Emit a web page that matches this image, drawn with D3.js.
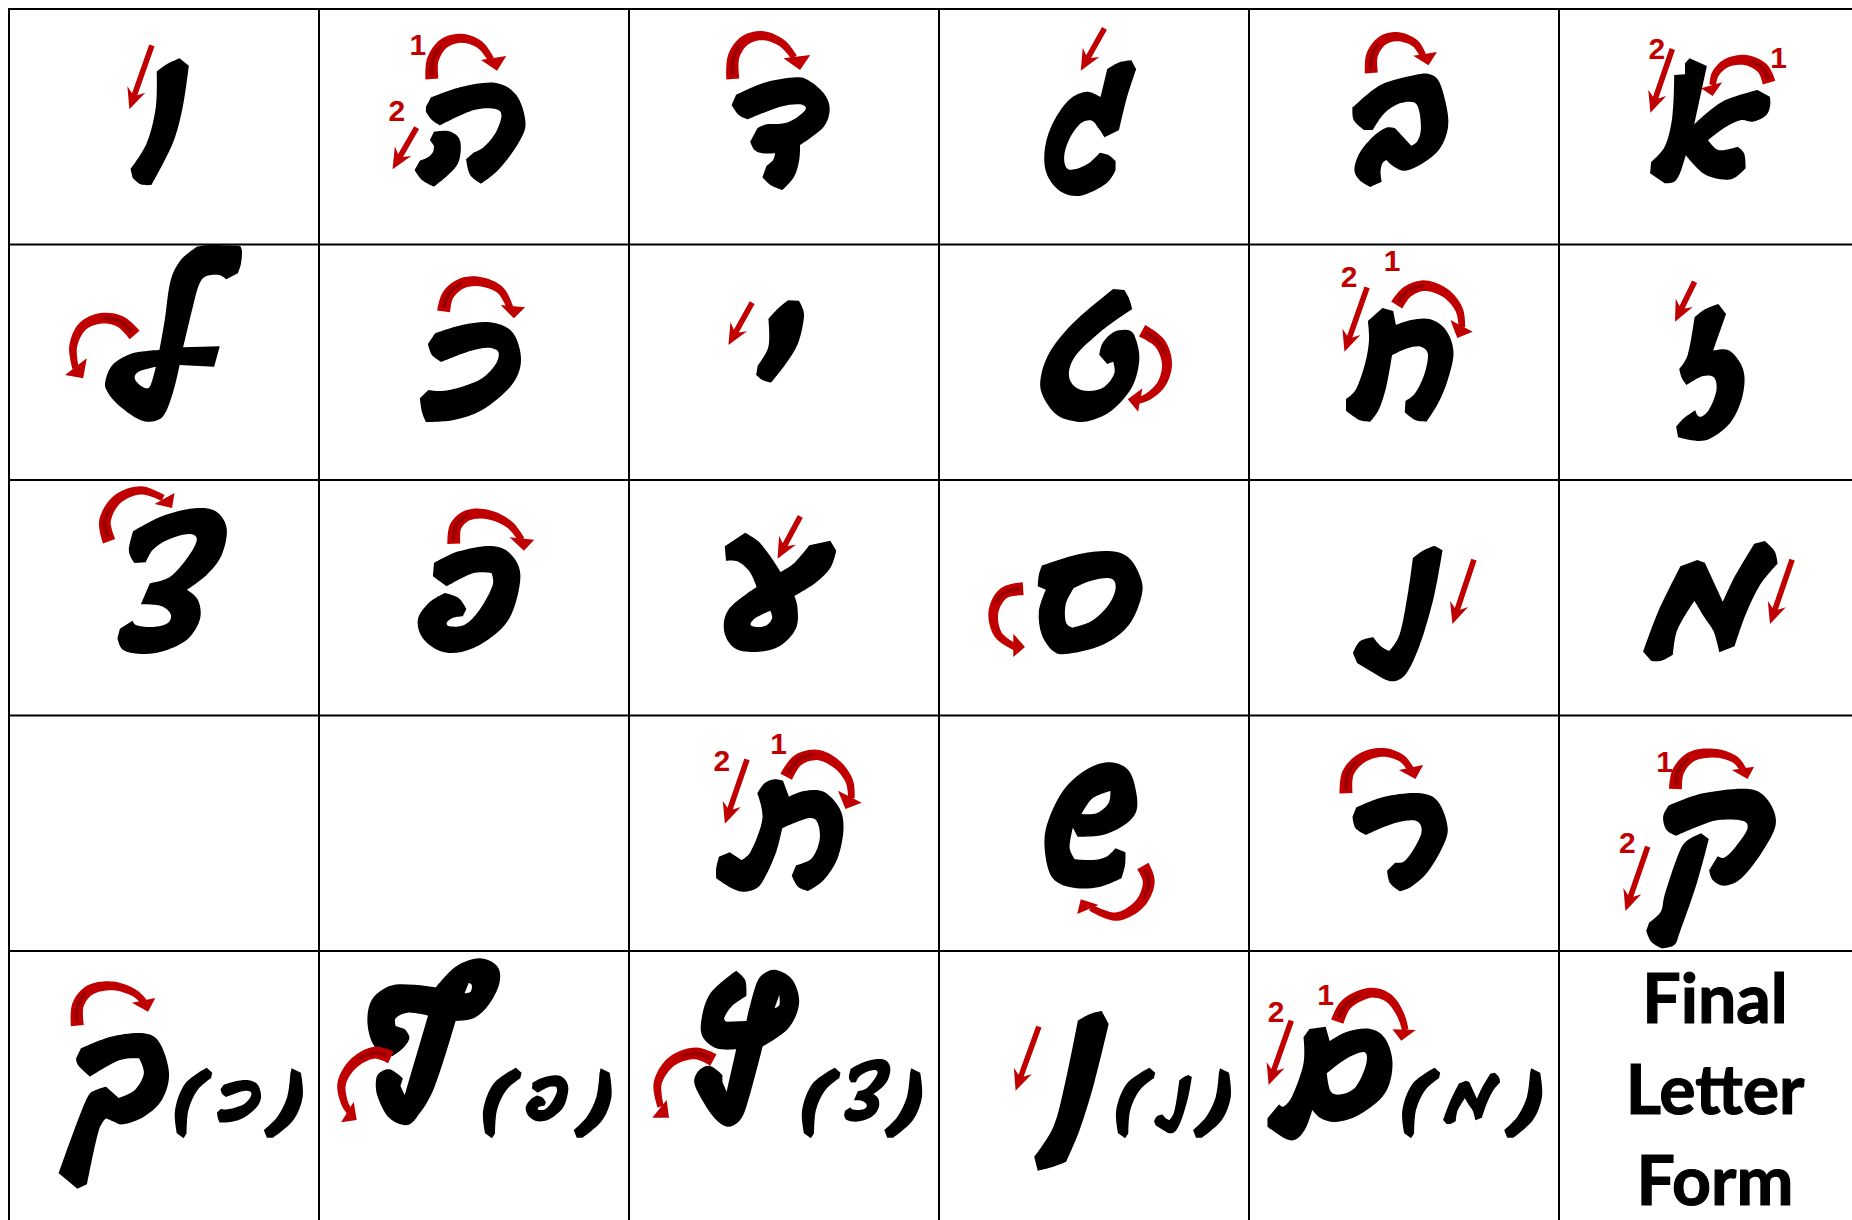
<!DOCTYPE html>
<html>
<head>
<meta charset="utf-8">
<style>
  html, body { margin: 0; padding: 0; background: #fff; overflow: hidden; }
  svg { display: block; }
</style>
<script src="https://cdn.jsdelivr.net/npm/d3@7"></script>
</head>
<body>
<script>
var width = 1852, height = 1220

// grid
var colLines = [0, 1, 2, 3, 4, 5]
var rowLines = [0, 1, 2, 3, 4]

// regions the outlines were read in: left, top, width, height
var regions = {
  A: [0, 0, 630, 245], B: [630, 0, 620, 245], C: [1250, 0, 602, 245],
  D: [0, 240, 630, 245], E: [630, 240, 620, 245], F: [1250, 240, 602, 245],
  G: [0, 478, 940, 240], H: [940, 478, 912, 240],
  I: [630, 715, 620, 240], J: [1250, 715, 602, 240],
  K: [0, 950, 940, 270], L: [940, 950, 912, 270]
}

// letter outlines: contour > runs, a corner between two runs
var letters = {
  vavTop: ["A", [[[390,215,415,193,447,175],[470,197],[455,320,430,430,377,555],[350,553,330,533],[325,507],[365,430,388,320,390,215]]]],
  hetA: ["A", [
    [[1073,292,1150,260,1235,249,1285,285,1308,370,1290,430,1240,510,1197,551],[1170,525,1160,478],[1180,457],[1205,440,1235,395,1248,345,1235,328,1180,330,1095,376],[1075,360,1060,335],[1060,320],[1073,292]],
    [[1080,395,1115,393,1140,410,1147,440,1140,490,1115,525,1080,560],[1050,540,1032,510],[1045,482],[1065,472,1078,455,1080,437],[1070,420],[1080,395]]
  ]],
  B1: ["B", [[[268,285,340,248,420,232,450,240,490,280,505,325,490,380,430,435],[428,480,415,530,385,570],[355,555,335,532],[345,498],[362,480,367,460],[335,460,315,450,304,425],[322,385],[345,373,390,370,425,350,445,325,430,313,380,320,298,358],[275,345,257,315],[268,285]]]],
  B2: ["B", [[[1207,207,1235,188,1268,181],[1280,208],[1255,300,1237,390],[1200,412],[1185,385,1168,362,1140,370,1110,420,1098,470,1105,505,1125,508,1160,490,1188,458],[1210,465,1228,483],[1228,510],[1205,550,1140,587,1090,575,1055,525,1048,460,1065,380,1110,300,1155,275,1190,291],[1207,207]]]],
  C1: ["C", [[[270,320,340,255,430,225,465,222,490,240,510,310,516,380,495,445,450,490,405,512,375,500,355,480],[345,490,340,515,343,545],[313,561],[285,540,272,510,285,460,320,410,355,383,378,385],[420,437],[435,425,445,390,440,330,427,307,390,310,350,340,320,390],[297,390],[270,360,267,320]]]],
  C2: ["C", [[[1105,225],[1133,223],[1133,190],[1145,175],[1190,198],[1157,373],[1230,305,1322,270],[1354,290],[1355,315,1345,345,1310,365,1280,360,1240,380,1193,420],[1220,450,1270,440],[1287,460,1291,505],[1260,535,1225,538,1180,520,1135,466],[1120,520,1105,545,1080,550],[1042,520],[1045,485],[1080,440,1100,350,1105,225]]]],
  D1: ["D", [
    [[490,20,520,15,597,17],[602,30,600,70,592,100],[563,118],[545,105,510,110,495,135,480,200,456,322],[547,319],[533,380],[447,375],[430,460,405,530,370,545,340,535,290,490,265,450,262,425,280,375,330,340,397,330],[410,240,425,120,450,60,490,20]],
    [[388,380,345,395,335,412,345,432,365,445,375,435,388,380]]
  ]],
  D2: ["D", [[[1083,280,1150,255,1220,247,1270,270,1292,320,1295,380,1270,440,1200,510,1130,540,1060,546],[1050,515,1045,475],[1066,450],[1100,453,1150,440,1200,415,1235,370,1240,335,1215,323,1170,333,1098,366],[1075,345,1065,312],[1083,280]]]],
  E1: ["E", [[[350,237,375,205,400,181],[427,182],[435,200,440,230,425,310,395,370,357,428],[335,420,319,404],[323,377],[350,320,350,237]]]],
  E2: ["E", [[[1222,147],[1250,150],[1262,175,1270,207],[1190,275,1125,350,1110,405,1125,440,1160,453,1200,440,1225,400,1222,365],[1207,372],[1187,345],[1195,310,1225,275,1265,272,1280,300,1288,360,1270,440,1220,510,1170,540,1130,545,1080,525,1045,470,1038,420,1060,340,1120,250,1222,147]]]],
  F1: ["F", [[[345,204],[373,213],[380,255],[420,240,470,238,510,270,530,335,515,420,490,490,460,545],[430,540,403,517],[405,483],[430,460,455,400,463,340,445,320,410,325,370,346],[355,440,335,510,313,545],[285,540,250,512],[250,477],[275,450,300,370,310,300,307,243],[345,204]]]],
  F2: ["F", [[[1158,232,1185,208,1220,192],[1240,222],[1206,332],[1245,330,1275,365,1288,410,1280,480,1250,550,1200,595,1165,603,1115,592],[1110,560],[1130,535,1160,511],[1165,525,1175,530,1195,510,1215,450,1208,412,1180,408,1137,435],[1125,415,1118,387],[1140,345,1158,232]]]],
  G1: ["G", [[[222,160,270,115,325,91,360,100,378,150,370,230,345,290,312,335],[330,365,334,420,315,480,280,515,240,528,205,515,196,480],[200,452],[221,428],[228,442,255,447,280,435,285,410,270,385,235,379],[250,316],[285,295,320,220,328,180,315,168,280,185,255,215,243,253],[224,255],[215,220,222,160]]]],
  G2: ["G", [[[724,255,765,220,820,204,850,225,868,290,850,420,810,490,770,522,735,520,705,480,697,425,715,375,742,345],[765,360,778,393],[772,415],[755,420,745,435,750,445,775,440,800,395,822,320,820,285],[790,285,745,325],[722,295],[724,255]]]],
  G3: ["G", [
    [[1209,205],[1243,164],[1265,190,1285,235,1302,282],[1325,255,1350,202],[1385,188],[1395,218],[1385,270,1360,315,1325,354],[1330,385,1328,450,1300,505,1260,522,1225,510,1208,460,1215,395,1262,327],[1250,280,1230,250,1211,248],[1209,205]],
    [[1285,398,1260,420,1252,440,1265,447,1280,440,1288,420,1285,398]]
  ]],
  H1: ["H", [
    [[175,263,240,228,295,220,325,240,345,300,347,350,325,440,280,500,215,528,195,520,175,470,170,400,182,335],[168,325],[170,290,175,263]],
    [[230,330,260,308,295,302,302,330,290,380,260,430,228,449],[217,435,216,380,230,330]]
  ]],
  H2: ["H", [[[813,240,830,218,850,203],[864,217],[850,350,825,500,800,590,778,610,760,600],[717,555],[710,525],[722,490,745,478],[758,505,772,519],[790,470,805,340,813,240]]]],
  H3: ["H", [[[1273,265],[1302,246],[1315,254],[1346,372],[1365,300,1400,197],[1418,189],[1435,220,1440,257],[1410,320,1385,410,1366,505],[1340,523],[1330,460,1315,420,1297,368],[1275,430,1265,470,1260,530],[1240,548,1223,549],[1209,521],[1235,400,1273,265]]]],
  I1: ["I", [[[322,235,340,205,365,193,387,197],[402,245],[440,228,490,230,530,280,540,340,525,430,490,495,450,528],[425,515,409,482],[420,451],[460,430,480,370,472,318,450,310,385,340],[370,410,340,490,320,520,285,530,250,515,218,490],[218,460,225,425],[252,412],[282,435],[305,410,335,310,322,235]]]],
  I2: ["I", [
    [[1228,400],[1253,412],[1252,450,1243,490],[1190,515,1130,520,1085,505,1060,470,1048,380,1060,310,1100,220,1160,160,1215,142,1260,165,1280,230,1280,290,1250,330,1195,360,1132,365],[1120,338],[1112,400,1125,433],[1170,435,1205,425,1228,400]],
    [[1215,228,1170,250,1142,297],[1180,295,1210,265,1215,228]]
  ]],
  J1: ["J", [[[277,277,350,245,445,235,490,260,515,340,500,400,460,475,420,515,390,529],[365,505,357,467],[378,443],[400,440,425,405,447,350,437,320,400,318,350,335,302,360],[275,340,267,305],[277,277]]]],
  J2: ["J", [
    [[1090,272,1180,235,1300,222,1345,250,1370,320,1340,400,1280,490,1235,512,1205,495,1196,466],[1218,424],[1235,428,1265,395,1296,340,1285,318,1220,315,1165,335,1110,362],[1085,345,1076,305,1090,272]],
    [[1175,355],[1195,372],[1165,500,1120,650,1105,690,1072,700],[1045,680,1032,647],[1040,622],[1070,590,1080,540,1115,420,1135,380,1175,355]]
  ]],
  K1: ["K", [[[135,295,185,260,240,250,265,275,282,370,270,450,240,500,205,523,190,515,177,505],[165,540,145,703],[129,716],[98,670],[145,445,160,420,177,410],[198,444],[225,420,240,370,232,325],[200,330,150,380],[130,345,127,325],[135,295]]]],
  K2: ["K", [
    [[727,112,760,50,800,25,830,50,833,100,815,165,790,205,760,213],[725,410,700,490,680,525,650,505,630,440,627,395,632,370,650,358,672,385],[668,408],[675,435],[714,197],[680,188,660,205,660,228],[675,237],[683,263,672,295,655,318],[625,290,613,220,620,150,650,108,690,104,727,112]],
    [[782,98],[775,130],[785,125,787,105,782,98]]
  ]],
  K3: ["K", [
    [[1228,62],[1243,90,1245,138],[1220,170,1208,205,1212,215],[1245,213],[1262,100,1275,70,1295,60,1322,90,1333,160,1315,235,1272,290],[1245,470,1232,515,1213,530,1192,505,1165,430,1158,390,1168,358,1185,348,1205,375],[1205,395],[1212,425],[1228,298],[1195,295,1172,260,1170,210,1185,130,1228,62]],
    [[1300,135],[1292,175],[1300,165,1300,135]]
  ]],
  L1: ["L", [[[237,212,258,192,278,183],[290,222],[265,400,240,540,217,635],[195,650,168,662],[162,620],[195,530,215,400,237,212]]]],
  L2: ["L", [
    [[625,262],[635,237],[663,230],[670,273],[700,245,740,237,765,265,778,340,765,430,720,495,680,516,655,505,640,480],[630,530,615,565,600,570,575,545,563,530],[563,505],[583,463],[590,470,605,440,625,340,625,262]],
    [[665,370,700,325,730,307,733,340,715,410,690,433,672,425,665,370]]
  ]],
  parenL: ["K", [[[345,353],[354,368],[352,385],[330,420,315,480,312,550],[307,565],[296,550],[293,480,310,400,345,353]]]],
  parenR: ["K", [[[485,355],[500,368],[503,440,488,510,455,563],[445,563],[440,540],[462,500,478,440,483,370],[485,355]]]]
}

// small copies in the bottom row: letter, region, x0, y0, x1, y1
var smallForms = [
  ["parenL", "K", 292, 353, 354, 565], ["D2", "K", 362, 390, 435, 518], ["parenR", "K", 440, 355, 505, 563],
  ["parenL", "K", 806, 353, 870, 565], ["G2", "K", 877, 376, 948, 513], ["parenR", "K", 957, 355, 1020, 563],
  ["parenL", "K", 1338, 353, 1402, 565], ["G1", "K", 1408, 327, 1485, 515], ["parenR", "K", 1475, 355, 1538, 563],
  ["parenL", "L", 303, 353, 370, 565], ["H2", "L", 368, 375, 433, 550], ["parenR", "L", 435, 355, 500, 563],
  ["parenL", "L", 795, 353, 860, 565], ["H3", "L", 865, 368, 963, 522], ["parenR", "L", 970, 355, 1035, 563]
]

// straight stroke arrows: region, tail x, y, tip x, y
var straightArrows = [
  ["A", 378, 136, 322, 328], ["A", 1037, 383, 977, 508], ["B", 1200, 85, 1140, 212],
  ["C", 1100, 147, 1043, 338], ["E", 309, 188, 249, 315], ["F", 305, 142, 246, 335],
  ["F", 1158, 125, 1107, 245], ["G", 1335, 115, 1297, 242], ["H", 918, 245, 881, 438],
  ["H", 1465, 245, 1427, 438], ["I", 296, 133, 240, 326], ["J", 1036, 395, 978, 588],
  ["L", 170, 230, 130, 422], ["L", 604, 212, 565, 405]
]

// curved arrows: region, centre line, arrow head triangle
var curvedArrows = [
  ["A", [1075,237,1077,180,1105,130,1150,115,1195,135,1222,178], [1197,180,1237,212,1260,168]],
  ["B", [260,237,262,170,290,122,335,107,385,130,415,172], [388,175,430,210,456,165]],
  ["C", [316,219,318,165,345,122,385,110,430,130,450,165], [425,167,465,196,487,156]],
  ["C", [1352,248,1335,205,1290,180,1240,190,1212,222,1205,255], [1175,265,1205,288,1230,247]],
  ["D", [335,285,300,245,250,235,205,260,182,320,188,385], [162,405,207,415,216,355]],
  ["D", [1104,214,1115,165,1150,130,1195,125,1245,150,1270,205], [1246,195,1279,235,1307,202]],
  ["E", [1295,272,1340,310,1358,370,1345,430,1310,470,1280,483], [1296,445,1259,478,1285,515]],
  ["F", [382,195,410,155,455,137,510,160,545,210,552,262], [522,240,540,294,580,275]],
  ["G", [182,190,175,130,195,65,235,37,272,60], [258,78,287,90,291,45]],
  ["G", [757,197,760,145,780,112,815,110,850,140,870,185], [850,178,874,218,891,185]],
  ["H", [143,332,110,345,92,400,100,470,132,510], [126,467,146,507,126,537]],
  ["I", [395,185,425,135,475,120,525,150,555,200,560,250], [526,227,545,282,586,263]],
  ["I", [1297,453,1312,500,1290,565,1230,605,1165,578], [1140,553,1131,597,1185,570]],
  ["J", [250,235,255,175,290,130,345,112,395,130,420,165], [388,165,431,192,451,150]],
  ["J", [1108,222,1115,170,1150,125,1215,115,1265,135,1285,165], [1255,165,1296,192,1313,155]],
  ["K", [129,227,130,165,150,120,190,108,225,130,240,155], [220,158,247,185,259,144]],
  ["K", [652,322,625,308,590,340,570,400,575,460,583,485], [569,517,595,510,590,455]],
  ["K", [1190,330,1160,310,1120,335,1097,400,1102,470], [1088,503,1116,503,1112,450]],
  ["L", [683,215,695,170,715,143,745,128,772,145,792,195,800,240], [778,238,793,272,818,240]]
]

// stroke order numbers: region, text, x, baseline y
var strokeNumbers = [
  ["A", "1", 1040, 165], ["A", "2", 988, 363], ["C", "2", 1060, 177], ["C", "1", 1377, 205],
  ["F", "1", 370, 93], ["F", "2", 258, 140], ["I", "1", 376, 116], ["I", "2", 232, 167],
  ["J", "1", 1080, 171], ["J", "2", 983, 413], ["L", "1", 663, 164], ["L", "2", 578, 215]
]

var finalLabel = ["Final", "Letter", "Form"]
var finalBaselines = [1023, 1114, 1205]

var red = "#c00000", darkRed = "#9a0000"

var svg = d3.select("body").append("svg")
    .attr("width", width)
    .attr("height", height)
    .style("background", "#fff")

// one pair of scales per region
var scales = {}
Object.keys(regions).forEach(function(k) {
  var r = regions[k]
  scales[k] = {
    x: d3.scaleLinear().domain([0, 1568]).range([r[0], r[0] + r[2]]),
    y: d3.scaleLinear().domain([0, r[3] * 3]).range([r[1], r[1] + r[3]])
  }
})

function pairs(flat) {
  var out = []
  for (var i = 0; i < flat.length; i += 2) out.push([flat[i], flat[i + 1]])
  return out
}

// outline to path string, corners stay sharp
function outlinePath(contours, sx, sy) {
  var line = d3.line()
      .x(function(p) { return sx(p[0]) })
      .y(function(p) { return sy(p[1]) })
      .curve(d3.curveCatmullRom.alpha(0.2))
  return contours.map(function(runs) {
    var last = null, d = ""
    runs.forEach(function(run) {
      var pts = pairs(run)
      if (last) pts.unshift(last)
      var part = line(pts)
      d += last ? part.replace(/^M/, "L") : part
      last = pts[pts.length - 1]
    })
    return d + "Z"
  }).join("")
}

var g = svg.append("g").attr("fill-rule", "evenodd")

// full size letters
Object.keys(letters).filter(function(k) { return k.indexOf("paren") != 0 }).forEach(function(k) {
  var s = scales[letters[k][0]]
  g.append("path")
      .attr("d", outlinePath(letters[k][1], s.x, s.y))
      .attr("fill", "#000")
})

// small forms in brackets
smallForms.forEach(function(f) {
  var contours = letters[f[0]][1], t = scales[f[1]]
  var all = d3.merge(d3.merge(contours).map(pairs))
  var sx = d3.scaleLinear().domain(d3.extent(all, function(p) { return p[0] })).range([t.x(f[2]), t.x(f[4])])
  var sy = d3.scaleLinear().domain(d3.extent(all, function(p) { return p[1] })).range([t.y(f[3]), t.y(f[5])])
  g.append("path")
      .attr("d", outlinePath(contours, sx, sy))
      .attr("fill", "#000")
})

// straight arrows
var arrows = svg.append("g").attr("fill", red)
straightArrows.forEach(function(a) {
  var s = scales[a[0]]
  var x0 = s.x(a[1]), y0 = s.y(a[2]), x1 = s.x(a[3]), y1 = s.y(a[4])
  var len = Math.hypot(x1 - x0, y1 - y0), ux = (x1 - x0) / len, uy = (y1 - y0) / len
  var nx = -uy, ny = ux
  var neck = len - 16, back = len - 21, w = 2.8, hw = 9.5
  var pt = function(along, side) { return [x0 + ux * along + nx * side, y0 + uy * along + ny * side] }
  arrows.append("polygon")
      .attr("points", [pt(0, w), pt(neck, w), pt(back, hw), [x1, y1], pt(back, -hw), pt(neck, -w), pt(0, -w)].join(" "))
})

// ribbon along a centre line, tapered
function ribbon(node, from, to, w0, w1) {
  var total = node.getTotalLength(), left = [], right = []
  d3.range(0, 41).forEach(function(i) {
    var t = from + (to - from) * i / 40
    var p = node.getPointAtLength(t * total)
    var q = node.getPointAtLength(Math.min(t * total + 1, total))
    var o = node.getPointAtLength(Math.max(t * total - 1, 0))
    var dx = q.x - o.x, dy = q.y - o.y, n = Math.hypot(dx, dy) || 1
    var w = (w0 + (w1 - w0) * t) / 2
    left.push([p.x - dy / n * w, p.y + dx / n * w])
    right.unshift([p.x + dy / n * w, p.y - dx / n * w])
  })
  return left.concat(right)
}

curvedArrows.forEach(function(a) {
  var s = scales[a[0]]
  var centre = d3.line()
      .x(function(p) { return s.x(p[0]) })
      .y(function(p) { return s.y(p[1]) })
      .curve(d3.curveCatmullRom.alpha(0.5))
  var guide = svg.append("path").attr("d", centre(pairs(a[1]))).attr("fill", "none")
  var node = guide.node()
  arrows.append("polygon").attr("points", ribbon(node, 0, 1, 13, 6.5).join(" "))
  arrows.append("polygon").attr("fill", darkRed).attr("points", ribbon(node, 0.04, 0.36, 4.5, 2).join(" "))
  arrows.append("polygon").attr("points", pairs(a[2]).map(function(p) { return [s.x(p[0]), s.y(p[1])] }).join(" "))
  guide.remove()
})

// stroke numbers
svg.append("g").selectAll("text")
    .data(strokeNumbers)
    .enter().append("text")
    .attr("x", function(d) { return scales[d[0]].x(d[2]) })
    .attr("y", function(d) { return scales[d[0]].y(d[3]) })
    .attr("text-anchor", "middle")
    .attr("font-family", "'Liberation Sans', Arial, sans-serif")
    .attr("font-weight", 700)
    .attr("font-size", 30)
    .attr("fill", red)
    .text(function(d) { return d[1] })

// last cell label
svg.append("g").selectAll("text")
    .data(finalLabel)
    .enter().append("text")
    .attr("x", 1715)
    .attr("y", function(d, i) { return finalBaselines[i] })
    .attr("text-anchor", "middle")
    .attr("font-family", "Lato, 'Open Sans', sans-serif")
    .attr("font-weight", 700)
    .attr("font-size", 68)
    .attr("fill", "#000")
    .attr("stroke", "#000")
    .attr("stroke-width", 1.2)
    .text(function(d) { return d })

// grid on top
var xGrid = d3.scaleLinear().domain([0, 5]).range([9, 1559])
var yGrid = d3.scaleLinear().domain([0, 4]).range([9, 951])

svg.append("g").selectAll("line")
    .data(colLines)
    .enter().append("line")
    .attr("x1", function(d) { return xGrid(d) })
    .attr("x2", function(d) { return xGrid(d) })
    .attr("y1", yGrid(0) - 1)
    .attr("y2", height)
    .attr("stroke", "#000")
    .attr("stroke-width", 2)

svg.append("g").selectAll("line")
    .data(rowLines)
    .enter().append("line")
    .attr("x1", xGrid(0) - 1)
    .attr("x2", width)
    .attr("y1", function(d) { return yGrid(d) })
    .attr("y2", function(d) { return yGrid(d) })
    .attr("stroke", "#000")
    .attr("stroke-width", 2)
</script>
</body>
</html>
